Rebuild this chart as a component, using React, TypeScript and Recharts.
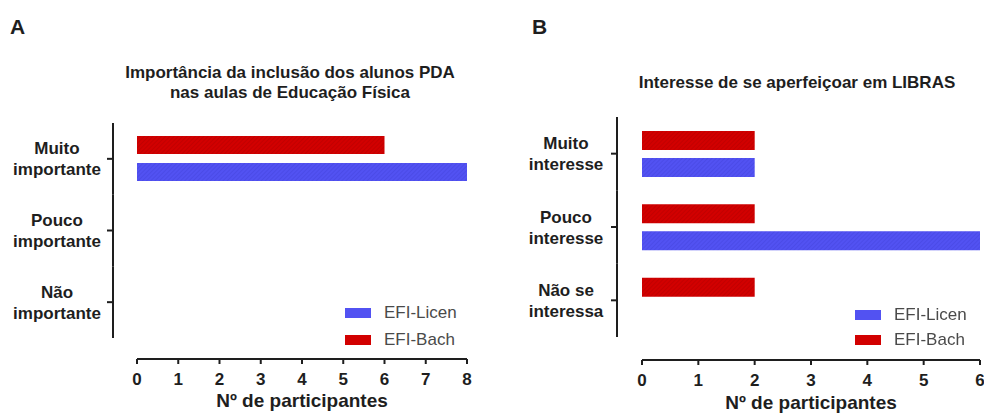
import React from "react";
import { BarChart, Bar, XAxis, YAxis, Legend } from "recharts";

const categoriesA = ["Muito\nimportante", "Pouco\nimportante", "Não\nimportante"];
const licenA = [8, 0, 0];
const bachA = [6, 0, 0];

const categoriesB = ["Muito\ninteresse", "Pouco\ninteresse", "Não se\ninteressa"];
const licenB = [2, 6, 0];
const bachB = [2, 2, 2];

const ticksA = [0, 1, 2, 3, 4, 5, 6, 7, 8];
const ticksB = [0, 1, 2, 3, 4, 5, 6];

const seriesNames = ["EFI-Licen", "EFI-Bach"];

const BLUE = "#5252f2";
const RED = "#d20000";
const INK = "#1e1e1e";
const FONT = "'Liberation Sans', Arial, Helvetica, sans-serif";

function CatTick(props: any) {
  const { y, payload, axisX, labelX, half } = props;
  const lines = String(payload.value).split("\n");
  return (
    <g>
      <line x1={axisX} x2={axisX} y1={y - half} y2={y + half} stroke={INK} strokeWidth={2} />
      <line x1={axisX - 6} x2={axisX} y1={y} y2={y} stroke={INK} strokeWidth={2} />
      {lines.map((l, i) => (
        <text
          key={i}
          x={labelX}
          y={y - 10 + i * 21}
          textAnchor="middle"
          dominantBaseline="central"
          fontFamily={FONT}
          fontSize={17}
          fontWeight="bold"
          fill={INK}
        >
          {l}
        </text>
      ))}
    </g>
  );
}

function LegendBox({ rowH }: { rowH: number }) {
  const colors = [BLUE, RED];
  return (
    <div style={{ fontFamily: FONT }}>
      {seriesNames.map((n, i) => (
        <div key={n} style={{ display: "flex", alignItems: "center", height: rowH }}>
          <div style={{ width: 26, height: 10, background: colors[i] }} />
          <span style={{ marginLeft: 13, fontSize: 17, color: "#4a4a4a", whiteSpace: "nowrap" }}>{n}</span>
        </div>
      ))}
    </div>
  );
}

interface PanelProps {
  id: string;
  cats: string[];
  licen: number[];
  bach: number[];
  ticks: number[];
  top: number;
  right: number;
  yWidth: number;
  xHeight: number;
  padBottom: number;
  axisGap: number;
  labelX: number;
  barSize: number;
  barGap: number;
  legendLeft: number;
  legendTop: number;
  legendRow: number;
  labelOffset: number;
}

function Panel(p: PanelProps) {
  const data = p.cats.map((c, i) => ({ cat: c, licen: p.licen[i], bach: p.bach[i] }));
  const plotTop = p.top;
  const axisBottom = 413 - p.xHeight - p.padBottom;
  const half = (axisBottom - plotTop) / p.cats.length / 2;
  const axisX = p.yWidth - p.axisGap;
  return (
    <BarChart
      width={492}
      height={413}
      data={data}
      layout="vertical"
      margin={{ top: p.top, right: p.right, bottom: 0, left: 0 }}
      barSize={p.barSize}
      barGap={p.barGap}
    >
      <defs>
        <pattern id={`hatchR${p.id}`} width="3" height="3" patternUnits="userSpaceOnUse" patternTransform="rotate(45)">
          <rect width="3" height="3" fill={RED} />
          <line x1="0" y1="0" x2="0" y2="3" stroke="#b80000" strokeWidth="1.2" />
        </pattern>
        <pattern id={`hatchB${p.id}`} width="3" height="3" patternUnits="userSpaceOnUse" patternTransform="rotate(45)">
          <rect width="3" height="3" fill={BLUE} />
          <line x1="0" y1="0" x2="0" y2="3" stroke="#4646e0" strokeWidth="1.2" />
        </pattern>
      </defs>
      <XAxis
        type="number"
        domain={[0, p.ticks[p.ticks.length - 1]]}
        ticks={p.ticks}
        interval={0}
        height={p.xHeight}
        tickSize={5}
        tickMargin={9}
        axisLine={{ stroke: INK, strokeWidth: 2 }}
        tickLine={{ stroke: INK, strokeWidth: 2 }}
        tick={{ fontFamily: FONT, fontSize: 17, fontWeight: "bold", fill: INK }}
        label={{
          value: "Nº de participantes",
          position: "insideBottom",
          offset: p.labelOffset,
          fontFamily: FONT,
          fontSize: 19,
          fontWeight: "bold",
          fill: INK,
        }}
      />
      <YAxis
        type="category"
        dataKey="cat"
        width={p.yWidth}
        padding={{ top: 0, bottom: p.padBottom }}
        axisLine={false}
        tickLine={false}
        interval={0}
        tick={(t: any) => <CatTick {...t} axisX={axisX} labelX={p.labelX} half={half} />}
      />
      <Legend
        layout="horizontal"
        verticalAlign="middle"
        align="center"
        content={() => <LegendBox rowH={p.legendRow} />}
        wrapperStyle={{ left: p.legendLeft, top: p.legendTop, width: 130, height: p.legendRow * 2 }}
      />
      <Bar dataKey="bach" name={seriesNames[1]} fill={`url(#hatchR${p.id})`} isAnimationActive={false} />
      <Bar dataKey="licen" name={seriesNames[0]} fill={`url(#hatchB${p.id})`} isAnimationActive={false} />
    </BarChart>
  );
}

export default function App() {
  const titleStyle: React.CSSProperties = {
    position: "absolute",
    width: 420,
    textAlign: "center",
    fontFamily: FONT,
    fontSize: 17,
    fontWeight: "bold",
    lineHeight: "20px",
    color: INK,
  };
  const letterStyle: React.CSSProperties = {
    position: "absolute",
    fontFamily: FONT,
    fontSize: 21,
    fontWeight: "bold",
    color: INK,
    lineHeight: "24px",
  };
  return (
    <div style={{ position: "fixed", left: 0, top: 0, width: 984, height: 413, background: "#fff" }}>
      <div style={{ ...letterStyle, left: 10, top: 15 }}>A</div>
      <div style={{ ...letterStyle, left: 532, top: 15 }}>B</div>
      <div style={{ ...titleStyle, left: 290 - 210, top: 63 }}>
        Importância da inclusão dos alunos PDA
        <br />
        nas aulas de Educação Física
      </div>
      <div style={{ ...titleStyle, left: 797 - 210, top: 73 }}>Interesse de se aperfeiçoar em LIBRAS</div>
      <div style={{ position: "absolute", left: 0, top: 0 }}>
        <Panel
          id="A"
          cats={categoriesA}
          licen={licenA}
          bach={bachA}
          ticks={ticksA}
          top={123}
          right={25}
          yWidth={137}
          xHeight={54}
          padBottom={21}
          axisGap={24}
          labelX={57}
          barSize={18}
          barGap={9}
          legendLeft={345}
          legendTop={299}
          legendRow={27}
          labelOffset={6}
        />
      </div>
      <div style={{ position: "absolute", left: 492, top: 0 }}>
        <Panel
          id="B"
          cats={categoriesB}
          licen={licenB}
          bach={bachB}
          ticks={ticksB}
          top={117}
          right={4}
          yWidth={150}
          xHeight={53}
          padBottom={23}
          axisGap={25}
          labelX={74}
          barSize={19}
          barGap={8}
          legendLeft={363}
          legendTop={302}
          legendRow={25}
          labelOffset={4}
        />
      </div>
    </div>
  );
}
